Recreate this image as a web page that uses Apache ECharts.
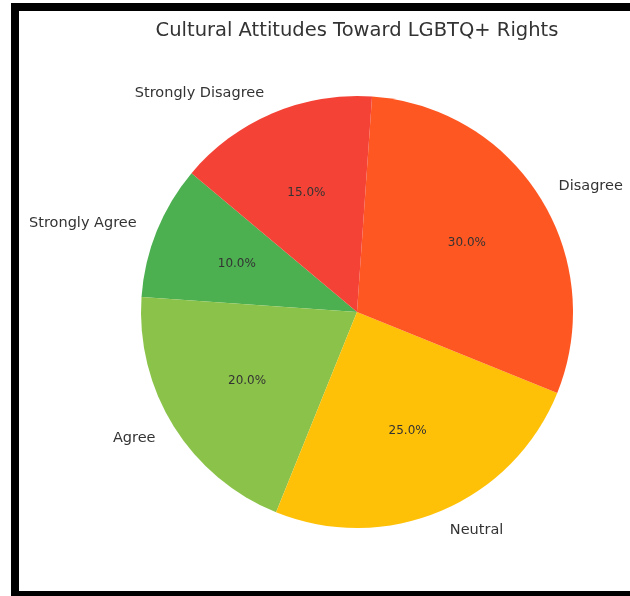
<!DOCTYPE html>
<html>
<head>
<meta charset="utf-8">
<script src="https://cdn.jsdelivr.net/npm/echarts@6/dist/echarts.min.js"></script>
<style>
  html, body { margin: 0; padding: 0; background: #fff; }
  #chart { width: 630px; height: 596px; }
</style>
</head>
<body>
<div id="chart"></div>
<script>
// Survey responses, in the order the slices are laid out (counter-clockwise)
const categories = ['Strongly Agree', 'Agree', 'Neutral', 'Disagree', 'Strongly Disagree'];
const shares = [10, 20, 25, 30, 15];
const colors = ['#4CAF50', '#8BC34A', '#FFC107', '#FF5722', '#F44336'];

const START_ANGLE = 140;
const CENTER = [357, 312];
const RADIUS = 216;
const FONT = 'DejaVu Sans, sans-serif';

const total = shares.reduce((a, b) => a + b, 0);

// Mid angle (degrees, counter-clockwise from +x) of each slice
const midAngles = [];
let acc = START_ANGLE;
shares.forEach(v => {
  const span = v / total * 360;
  midAngles.push(acc + span / 2);
  acc += span;
});

function polar(angleDeg, frac) {
  const a = angleDeg * Math.PI / 180;
  return [CENTER[0] + frac * RADIUS * Math.cos(a), CENTER[1] - frac * RADIUS * Math.sin(a)];
}

const pieData = categories.map((name, i) => ({
  name, value: shares[i], itemStyle: { color: colors[i] }
}));

const chart = echarts.init(document.getElementById('chart'), null, { renderer: 'canvas' });

chart.setOption({
  backgroundColor: '#ffffff',
  animation: false,
  title: {
    text: 'Cultural Attitudes Toward LGBTQ+ Rights',
    left: 352, top: 16, textAlign: 'center',
    textStyle: { fontFamily: FONT, fontSize: 19.5, fontWeight: 'normal', color: '#333333' }
  },
  graphic: [{
    type: 'rect', silent: true,
    shape: { x: 15, y: 7, width: 700, height: 588 },
    style: { fill: 'none', stroke: '#000000', lineWidth: 8 }
  }],
  series: [
    {
      // slices with category names outside
      type: 'pie',
      center: CENTER, radius: RADIUS,
      startAngle: START_ANGLE, clockwise: false,
      avoidLabelOverlap: false,
      data: pieData,
      label: {
        show: true, position: 'outside',
        formatter: '{b}',
        fontFamily: FONT, fontSize: 14.5, color: '#333333'
      },
      labelLine: { show: false },
      labelLayout: function (params) {
        const i = params.dataIndex;
        const p = polar(midAngles[i], 1.1);
        return {
          x: p[0], y: p[1],
          align: p[0] >= CENTER[0] ? 'left' : 'right',
          verticalAlign: 'middle'
        };
      },
      emphasis: { disabled: true }
    },
    {
      // percentage labels
      type: 'pie',
      center: CENTER, radius: RADIUS,
      startAngle: START_ANGLE, clockwise: false,
      silent: true,
      data: pieData.map(d => ({ name: d.name, value: d.value, itemStyle: { color: 'transparent' } })),
      label: {
        show: true, position: 'inside',
        formatter: p => (p.value / total * 100).toFixed(1) + '%',
        fontFamily: FONT, fontSize: 12, color: '#333333'
      },
      labelLine: { show: false },
      labelLayout: function (params) {
        const p = polar(midAngles[params.dataIndex], 0.6);
        return { x: p[0], y: p[1], align: 'center', verticalAlign: 'middle' };
      },
      emphasis: { disabled: true }
    }
  ]
});
</script>
</body>
</html>
